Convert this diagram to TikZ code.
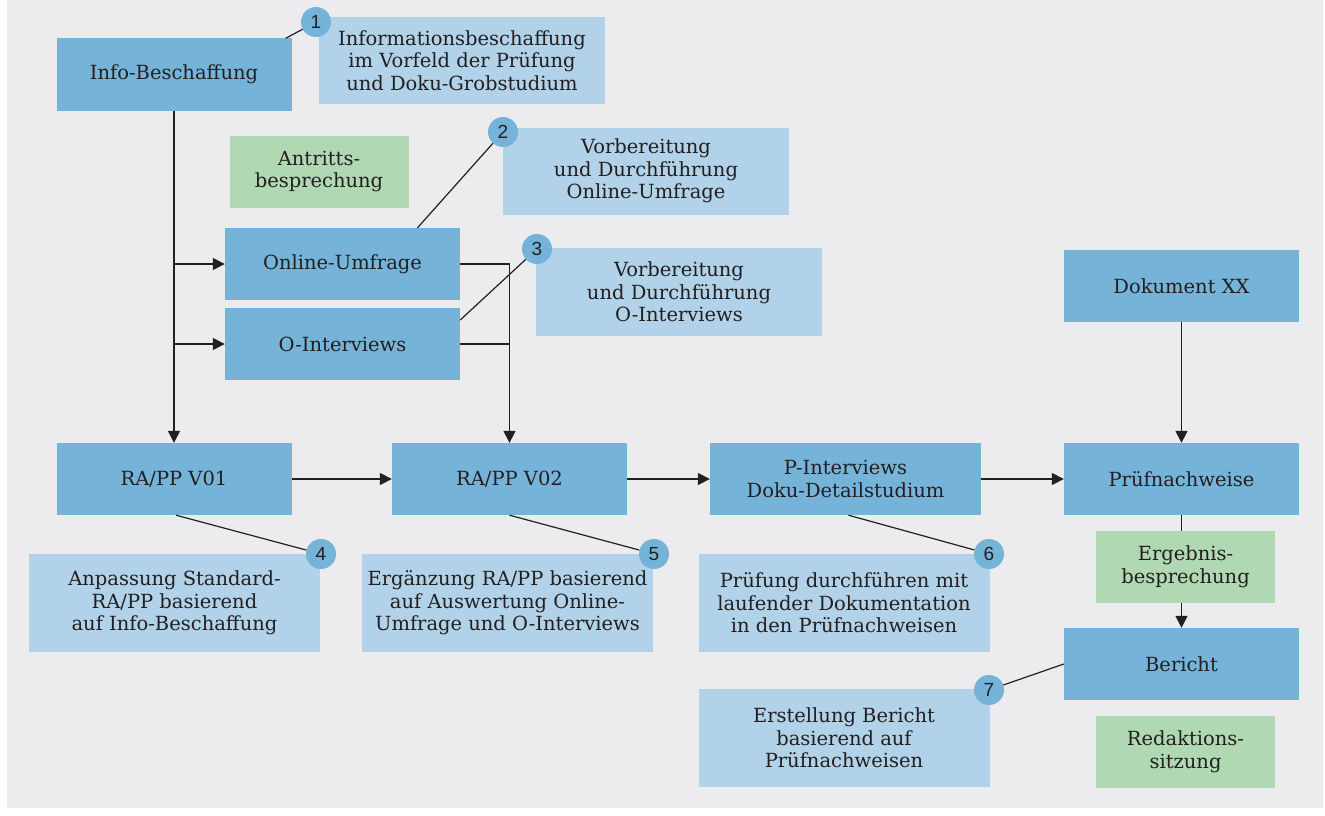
\documentclass[tikz,border=0pt]{standalone}
\usepackage{fontspec}
\setmainfont{DejaVu Serif}
\newfontfamily\numfont{Liberation Sans}
\usetikzlibrary{arrows.meta}
\definecolor{bg}{HTML}{ECECEF}
\definecolor{dblue}{HTML}{75B3D9}
\definecolor{lblue}{HTML}{B1D2E8}
\definecolor{lgreen}{HTML}{B0D8B3}
\definecolor{ink}{HTML}{231F20}
\begin{document}
\begin{tikzpicture}[x=1pt,y=-1pt,
  base/.style={text=ink, align=center, inner sep=0pt, font=\fontsize{19.5}{22.5}\selectfont},
  dbox/.style={base, fill=dblue, minimum width=235pt, minimum height=72pt},
  gbox/.style={base, fill=lgreen, minimum width=179pt, minimum height=72pt},
  cbox/.style={base, fill=lblue, minimum width=286pt, minimum height=87pt},
  cboxb/.style={base, fill=lblue, minimum width=291pt, minimum height=98pt},
  num/.style={circle, fill=dblue, text=ink, inner sep=0pt, minimum size=30pt, font=\numfont\fontsize{19}{19}\selectfont},
  conn/.style={draw=ink, line width=1.5pt},
  arr/.style={conn, -{Triangle[length=12pt,width=12pt]}},
  lead/.style={draw=ink, line width=1.2pt}]
\fill[white] (0,0) rectangle (1325,816);
\fill[bg] (7,0) rectangle (1323,808);
% main boxes
\node[dbox] (info) at (174,74.5) {Info-Beschaffung};
\node[dbox] (online) at (342.5,264) {Online-Umfrage};
\node[dbox] (ointer) at (342.5,344) {O-Interviews};
\node[dbox] (v1) at (174,479) {RA/PP V01};
\node[dbox] (v2) at (509.5,479) {RA/PP V02};
\node[dbox, minimum width=271pt] (pint) at (845.5,479) {P-Interviews\\Doku-Detailstudium};
\node[dbox] (pruef) at (1181.5,479) {Prüfnachweise};
\node[dbox] (dok) at (1181.5,286) {Dokument XX};
\node[dbox] (bericht) at (1181.5,664) {Bericht};
% green boxes
\node[gbox] (antritt) at (319,171.5) {Antritts-\\besprechung};
\node[gbox] (ergeb) at (1185.5,567) {Ergebnis-\\besprechung};
\node[gbox] (redakt) at (1185.5,752) {Redaktions-\\sitzung};
% callouts
\node[cbox] (c1) at (462,60.5) {Informationsbeschaffung\\im Vorfeld der Prüfung\\und Doku-Grobstudium};
\node[cbox] (c2) at (646,171) {Vorbereitung\\und Durchführung\\Online-Umfrage};
\node[cbox, minimum height=88pt] (c3) at (679,292) {Vorbereitung\\und Durchführung\\O-Interviews};
\node[cboxb] (c4) at (174.5,603) {Anpassung Standard-\\RA/PP basierend\\auf Info-Beschaffung};
\node[cboxb] (c5) at (507.5,603) {Ergänzung RA/PP basierend\\auf Auswertung Online-\\Umfrage und O-Interviews};
\node[cboxb] (c6) at (844,603) {Prüfung durchführen mit\\laufender Dokumentation\\in den Prüfnachweisen};
\node[cboxb] (c7) at (844,738) {Erstellung Bericht\\basierend auf\\Prüfnachweisen};
% connectors
\draw[arr] (info.south) -- (v1.north);
\draw[arr] (info.south |- online.west) -- (online.west);
\draw[arr] (info.south |- ointer.west) -- (ointer.west);
\draw[arr] (online.east) -| (v2.north);
\draw[conn] (ointer.east) -- (ointer.east -| v2.north);
\draw[arr] (v1.east) -- (v2.west);
\draw[arr] (v2.east) -- (pint.west);
\draw[arr] (pint.east) -- (pruef.west);
\draw[arr] (dok.south) -- (pruef.north);
\draw[conn] (pruef.south) -- (pruef.south |- ergeb.north);
\draw[arr] (pruef.south |- ergeb.south) -- (bericht.north);
% number circles
\node[num] (n1) at (316,22) {1};
\node[num] (n2) at (503,132) {2};
\node[num] (n3) at (537,249) {3};
\node[num] (n4) at (321,554) {4};
\node[num] (n5) at (654,554) {5};
\node[num] (n6) at (989,554) {6};
\node[num] (n7) at (989,690) {7};
% leader lines
\draw[lead] ([xshift=-6pt]info.north east) -- (n1);
\draw[lead] ([xshift=75pt]online.north) -- (n2);
\draw[lead] ([yshift=24pt]ointer.east) -- (n3);
\draw[lead] ([xshift=2pt]v1.south) -- (n4);
\draw[lead] (v2.south) -- (n5);
\draw[lead] ([xshift=3pt]pint.south) -- (n6);
\draw[lead] (bericht.west) -- (n7);
\end{tikzpicture}
\end{document}
